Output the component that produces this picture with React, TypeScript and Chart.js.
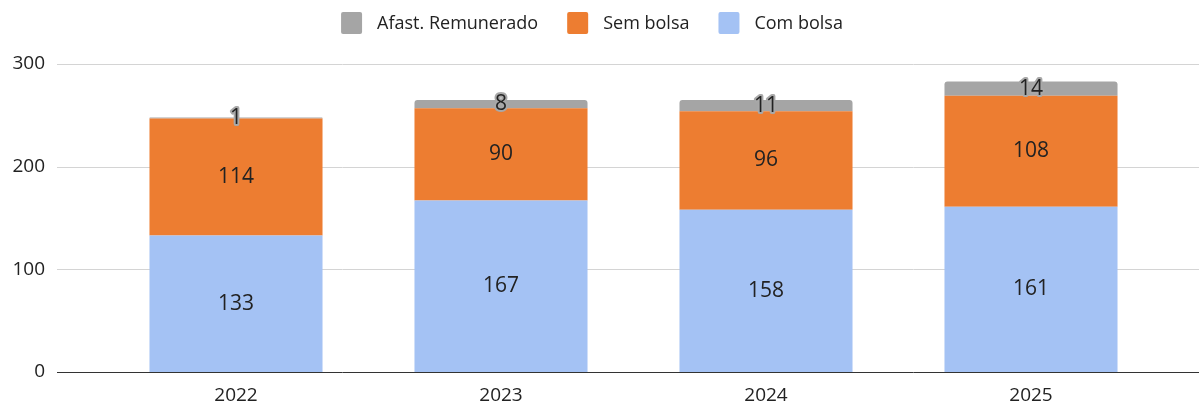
import React, { useEffect, useRef } from 'react';
import { Chart, registerables } from 'chart.js';

Chart.register(...registerables);

const categories = ['2022', '2023', '2024', '2025'];
const comBolsa = [133, 167, 158, 161];
const semBolsa = [114, 90, 96, 108];
const afastRemunerado = [1, 8, 11, 14];
const yTickValues = [0, 100, 200, 300];
const seriesNames = ['Com bolsa', 'Sem bolsa', 'Afast. Remunerado'];
const seriesColors = ['#a4c2f4', '#ed7d31', '#a5a5a5'];

const FONT = '"Open Sans", "Noto Sans", sans-serif';
const TEXT = '#222222';

const decorPlugin = {
  id: 'decor',
  beforeDatasetsDraw(chart: any) {
    const ctx = chart.ctx;
    const ys = chart.scales.y;
    ctx.save();
    for (const v of yTickValues) {
      const py = Math.round(ys.getPixelForValue(v)) + 0.5;
      ctx.strokeStyle = v === 0 ? '#333333' : '#d4d4d4';
      ctx.lineWidth = 1;
      ctx.beginPath();
      ctx.moveTo(57, py);
      ctx.lineTo(chart.width, py);
      ctx.stroke();
    }
    ctx.restore();
  },
  afterDatasetsDraw(chart: any) {
    const ctx = chart.ctx;
    ctx.save();
    ctx.font = `21px ${FONT}`;
    ctx.textAlign = 'center';
    ctx.textBaseline = 'middle';
    chart.data.datasets.forEach((ds: any, di: number) => {
      const meta = chart.getDatasetMeta(di);
      meta.data.forEach((el: any, i: number) => {
        const v = ds.data[i];
        const cx = el.x;
        const cy = (el.y + el.base) / 2;
        const label = String(v);
        if (di === 2) {
          ctx.lineJoin = 'round';
          ctx.strokeStyle = '#a8a8a8';
          ctx.lineWidth = 4;
          ctx.strokeText(label, cx, cy);
        }
        ctx.fillStyle = TEXT;
        ctx.fillText(label, cx, cy);
      });
    });
    ctx.restore();
  },
  afterDraw(chart: any) {
    const ctx = chart.ctx;
    ctx.save();
    ctx.font = `18px ${FONT}`;
    ctx.textBaseline = 'middle';
    ctx.textAlign = 'left';
    const order = [2, 1, 0];
    const boxW = 21;
    const boxH = 22;
    const gapText = 15;
    const gapItem = 29;
    const widths = order.map((i) => boxW + gapText + ctx.measureText(seriesNames[i]).width);
    const total = widths.reduce((a, b) => a + b, 0) + gapItem * (order.length - 1);
    let x = 592 - total / 2;
    const cy = 23;
    order.forEach((si, k) => {
      ctx.fillStyle = seriesColors[si];
      ctx.beginPath();
      (ctx as any).roundRect(x, cy - boxH / 2, boxW, boxH, 2);
      ctx.fill();
      ctx.fillStyle = TEXT;
      ctx.fillText(seriesNames[si], x + boxW + gapText, cy + 1);
      x += widths[k] + gapItem;
    });
    ctx.restore();
  },
};

export default function App() {
  const canvasRef = useRef<HTMLCanvasElement | null>(null);

  useEffect(() => {
    if (!canvasRef.current) return;
    const chart = new Chart(canvasRef.current, {
      type: 'bar',
      data: {
        labels: categories,
        datasets: [
          {
            label: seriesNames[0],
            data: comBolsa,
            backgroundColor: seriesColors[0],
            borderWidth: 0,
          },
          {
            label: seriesNames[1],
            data: semBolsa,
            backgroundColor: seriesColors[1],
            borderWidth: 0,
          },
          {
            label: seriesNames[2],
            data: afastRemunerado,
            backgroundColor: seriesColors[2],
            borderWidth: 0,
            borderRadius: { topLeft: 3, topRight: 3, bottomLeft: 0, bottomRight: 0 },
            borderSkipped: false,
          },
        ],
      },
      options: {
        responsive: false,
        animation: false,
        devicePixelRatio: 1,
        layout: { padding: { top: 64, right: 35.5, left: 0, bottom: 0 } },
        datasets: {
          bar: { categoryPercentage: 1, barPercentage: 0.653 },
        },
        plugins: {
          legend: { display: false },
          tooltip: { enabled: false },
        },
        scales: {
          x: {
            stacked: true,
            grid: { display: false, drawTicks: false },
            border: { display: false },
            ticks: {
              color: TEXT,
              font: { family: FONT, size: 19 },
              padding: 12,
            },
            afterFit: (s: any) => {
              s.height = 32;
              s.paddingLeft = 0;
              s.paddingRight = 0;
            },
          },
          y: {
            stacked: true,
            min: 0,
            max: 300,
            grid: { display: false, drawTicks: false },
            border: { display: false },
            ticks: {
              stepSize: 100,
              color: TEXT,
              font: { family: FONT, size: 19 },
              padding: 58.5,
            },
            afterFit: (s: any) => {
              s.width = 103.5;
              s.paddingTop = 10;
              s.paddingBottom = 10;
            },
          },
        },
      },
      plugins: [decorPlugin],
    });
    return () => chart.destroy();
  }, []);

  return (
    <div style={{ position: 'absolute', left: 0, top: 0, width: 1199, height: 404, background: '#fff' }}>
      <canvas ref={canvasRef} width={1199} height={404} style={{ display: 'block' }} />
    </div>
  );
}
